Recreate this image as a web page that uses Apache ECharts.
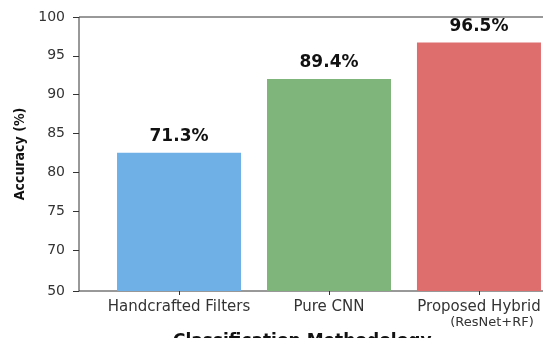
<!DOCTYPE html>
<html><head><meta charset="utf-8">
<script src="https://cdn.jsdelivr.net/npm/echarts@6/dist/echarts.min.js"></script>
<style>html,body{margin:0;padding:0;background:#fff}#c{width:543px;height:338px}</style>
</head><body><div id="c"></div>
<script>
const categories = ['Handcrafted Filters', 'Pure CNN', 'Proposed Hybrid'];
const subtitles = ['', '', '(ResNet+RF)'];
const barHeights = [82.5, 92.0, 96.7];
const valueLabels = ['71.3%', '89.4%', '96.5%'];
const colors = ['#6fb0e6', '#7fb57b', '#de6e6e'];
const yTickValues = [64.7, 70, 75, 80, 85, 90, 95, 100];
const yTickLabels = ['50', '70', '75', '80', '85', '90', '95', '100'];

const chart = echarts.init(document.getElementById('c'));
chart.setOption({
  animation: false,
  backgroundColor: '#fff',
  title: {
    text: 'Classification Methodology',
    left: 168, top: 328,
    textStyle: { fontFamily: 'DejaVu Sans', fontWeight: 'bold', fontSize: 17, color: '#111' }
  },
  grid: { left: 79, top: 17, width: 500, height: 274, outerBoundsMode: 'none', containLabel: false, show: true, borderColor: '#333', borderWidth: 1, backgroundColor: 'transparent' },
  xAxis: {
    type: 'value', min: -0.667, max: 2.667,
    splitLine: { show: false },
    axisLine: { show: false, onZero: false },
    axisTick: { show: true, customValues: [0, 1, 2], length: 4, lineStyle: { color: '#333' } },
    axisLabel: {
      customValues: [0, 1, 2], margin: 8,
      fontFamily: 'DejaVu Sans', fontSize: 15, color: '#333', lineHeight: 16,
      formatter: v => { const i = Math.round(v); return subtitles[i] ? '{a|' + categories[i] + '}\n{b|' + subtitles[i] + '}' : '{a|' + categories[i] + '}'; },
      rich: {
        a: { fontFamily: 'DejaVu Sans', fontSize: 15, color: '#333', lineHeight: 16 },
        b: { fontFamily: 'DejaVu Sans', fontSize: 13, color: '#333', lineHeight: 15, padding: [0, 0, 0, 26] }
      }
    }
  },
  yAxis: {
    type: 'value', min: 64.7, max: 100,
    name: 'Accuracy (%)', nameLocation: 'middle', nameGap: 52,
    nameTextStyle: { fontFamily: 'DejaVu Sans Condensed', fontWeight: 'bold', fontSize: 14, color: '#111' },
    splitLine: { show: false },
    axisLine: { show: false, onZero: false },
    axisTick: { show: true, customValues: yTickValues, length: 6, lineStyle: { color: '#333' } },
    axisLabel: {
      customValues: yTickValues, margin: 14,
      fontFamily: 'DejaVu Sans', fontSize: 14, color: '#333',
      formatter: v => { const i = yTickValues.findIndex(t => Math.abs(t - v) < 1e-6); return i >= 0 ? yTickLabels[i] : ''; }
    }
  },
  series: [{
    type: 'bar',
    barWidth: 124,
    data: barHeights.map((h, i) => ({ value: [i, h], itemStyle: { color: colors[i] } })),
    label: {
      show: true, position: 'top', distance: 8,
      fontFamily: 'DejaVu Sans', fontWeight: 'bold', fontSize: 17, color: '#111',
      formatter: p => valueLabels[p.dataIndex]
    }
  }]
});
</script></body></html>
